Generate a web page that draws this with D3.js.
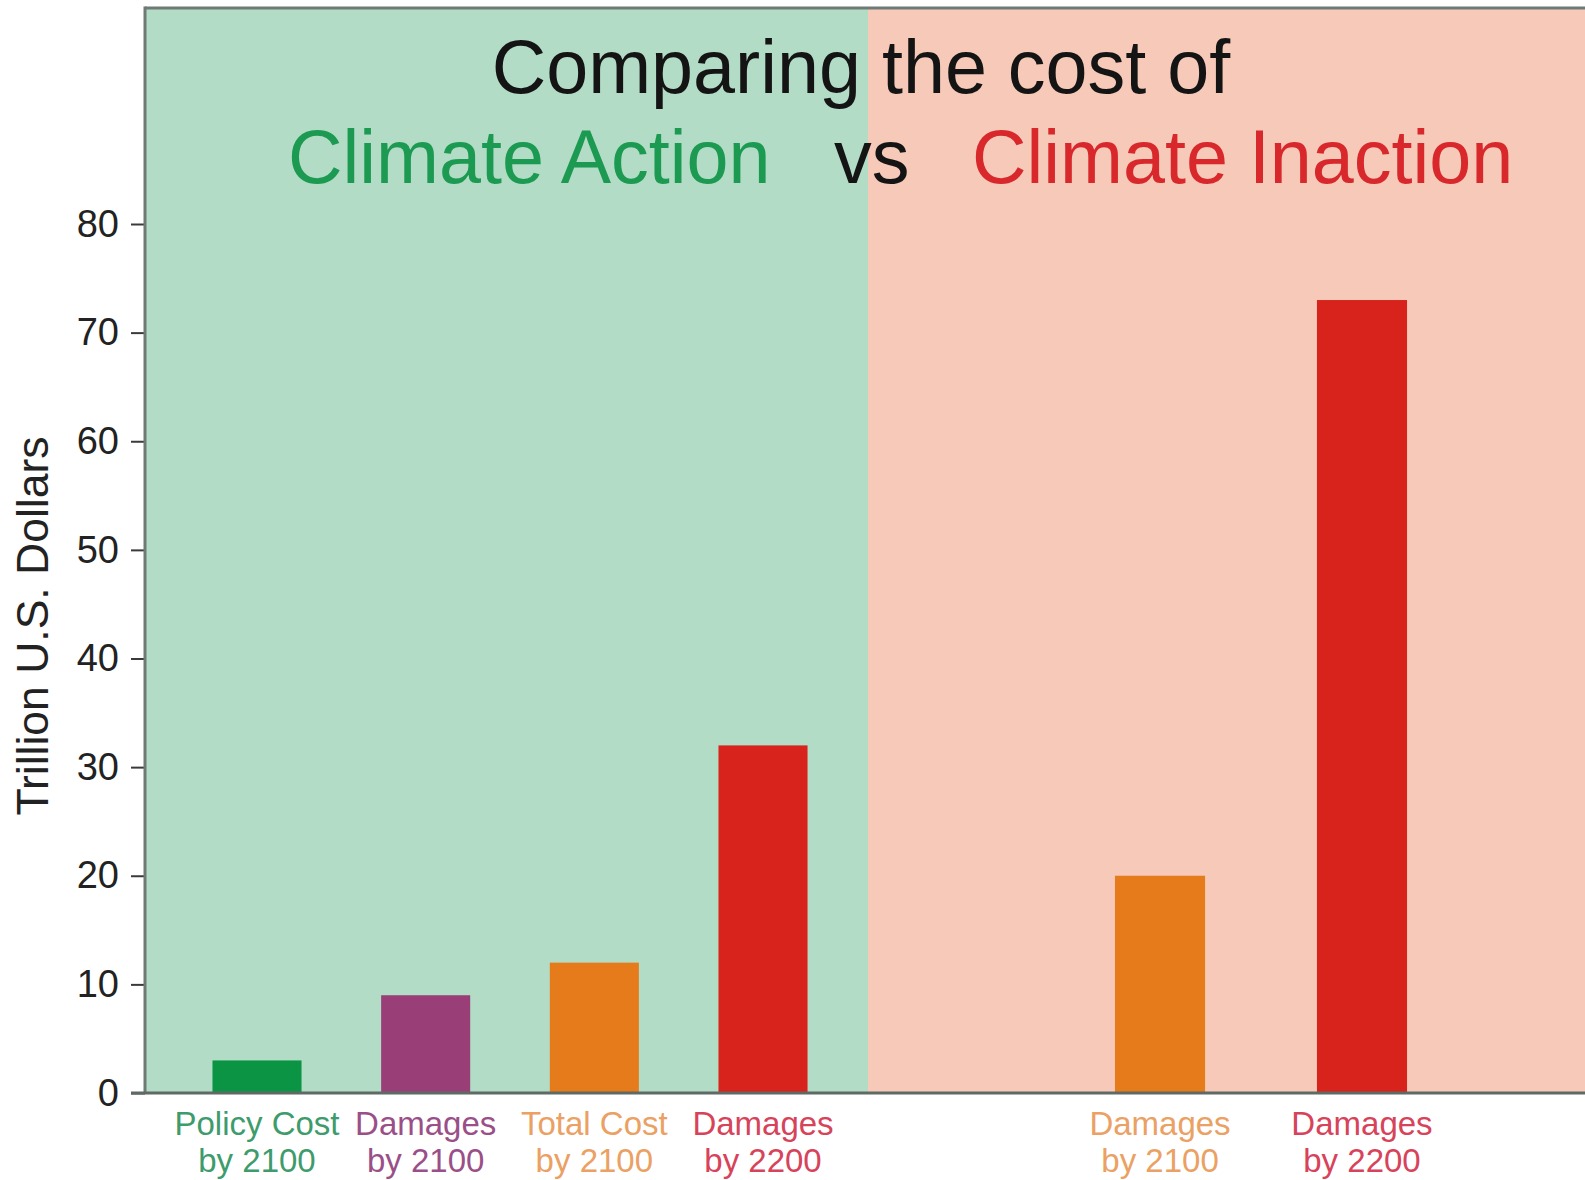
<!DOCTYPE html>
<html>
<head>
<meta charset="utf-8">
<script src="https://cdn.jsdelivr.net/npm/d3@7/dist/d3.min.js"></script>
<style>
  html, body { margin: 0; padding: 0; background: #ffffff; }
  svg { display: block; font-family: "Liberation Sans", Arial, Helvetica, sans-serif; }
</style>
</head>
<body>
<svg id="chart" width="1585" height="1180"></svg>
<script>
// ---- data ----
const actionCategories = ["Policy Cost|by 2100", "Damages|by 2100", "Total Cost|by 2100", "Damages|by 2200"];
const actionValues = [3, 9, 12, 32];
const inactionCategories = ["Damages|by 2100", "Damages|by 2200"];
const inactionValues = [20, 73];
const yTicks = [0, 10, 20, 30, 40, 50, 60, 70, 80];
const titleLine1 = "Comparing the cost of";
const titleLine2 = ["Climate Action", "vs", "Climate Inaction"];
const yAxisLabel = "Trillion U.S. Dollars";

// ---- styles ----
const actionBarColors = ["#0b9444", "#9a3e78", "#e57b1b", "#d8231c"];
const actionLabelColors = ["#3e9b6c", "#9b4f88", "#eaa163", "#d7435a"];
const inactionBarColors = ["#e57b1b", "#d8231c"];
const inactionLabelColors = ["#eaa163", "#d7435a"];

const svg = d3.select("#chart");
const W = 1585;
const plotLeft = 145, plotTop = 8, plotBottom = 1093, split = 868;

const y = d3.scaleLinear().domain([0, 80]).range([plotBottom, 224]);

const xA = d3.scaleBand().domain(actionCategories.map((d, i) => i))
  .range([145, 875]).paddingInner(0.472).paddingOuter(0.4);
const xI = d3.scaleBand().domain(inactionCategories.map((d, i) => i))
  .range([963.5, 1558.5]).paddingInner(0.554).paddingOuter(0.75);

// backgrounds
svg.append("rect").attr("x", plotLeft).attr("y", plotTop)
  .attr("width", split - plotLeft).attr("height", plotBottom - plotTop).attr("fill", "#b3dcc6");
svg.append("rect").attr("x", split).attr("y", plotTop)
  .attr("width", W - split).attr("height", plotBottom - plotTop).attr("fill", "#f6c9b9");

// top border
svg.append("line").attr("x1", plotLeft).attr("x2", W).attr("y1", plotTop).attr("y2", plotTop)
  .attr("stroke", "#6f7a74").attr("stroke-width", 3);

// title
svg.append("text").attr("x", 861).attr("y", 93).attr("text-anchor", "middle")
  .attr("font-size", 75.5).attr("fill", "#141414").text(titleLine1);
const t2 = [
  {text: titleLine2[0], x: 288, fill: "#1c9a52"},
  {text: titleLine2[1], x: 834, fill: "#141414"},
  {text: titleLine2[2], x: 972, fill: "#d8282c"}
];
svg.selectAll("text.t2").data(t2).join("text").attr("class", "t2")
  .attr("x", d => d.x).attr("y", 183).attr("font-size", 75.5)
  .attr("fill", d => d.fill).text(d => d.text);

// bars
svg.selectAll("rect.barA").data(actionValues).join("rect").attr("class", "barA")
  .attr("x", (d, i) => xA(i)).attr("width", xA.bandwidth())
  .attr("y", d => y(d)).attr("height", d => plotBottom - y(d))
  .attr("fill", (d, i) => actionBarColors[i]);
svg.selectAll("rect.barI").data(inactionValues).join("rect").attr("class", "barI")
  .attr("x", (d, i) => xI(i)).attr("width", xI.bandwidth())
  .attr("y", d => y(d)).attr("height", d => plotBottom - y(d))
  .attr("fill", (d, i) => inactionBarColors[i]);

// y axis
const yAxis = d3.axisLeft(y).tickValues(yTicks).tickSize(14).tickPadding(12);
const gy = svg.append("g").attr("transform", `translate(${plotLeft},0)`).call(yAxis);
gy.select(".domain").remove();
gy.selectAll(".tick line").attr("stroke", "#3a3a3a").attr("stroke-width", 2);
gy.selectAll(".tick text").attr("font-size", 38).attr("fill", "#222")
  .attr("font-family", "'Liberation Sans', Arial, sans-serif");

// axis lines
svg.append("line").attr("x1", plotLeft).attr("x2", plotLeft).attr("y1", plotTop - 1.5).attr("y2", plotBottom)
  .attr("stroke", "#6f7a74").attr("stroke-width", 3);
svg.append("line").attr("x1", 131).attr("x2", W).attr("y1", plotBottom).attr("y2", plotBottom)
  .attr("stroke", "#5f6a64").attr("stroke-width", 3);

// y label
svg.append("text").attr("transform", "translate(48,626) rotate(-90)")
  .attr("text-anchor", "middle").attr("font-size", 44.5).attr("fill", "#222").text(yAxisLabel);

// category labels
function drawLabels(cats, scale, colors) {
  const g = svg.append("g");
  cats.forEach((c, i) => {
    const lines = c.split("|");
    const cx = scale(i) + scale.bandwidth() / 2;
    const t = g.append("text").attr("text-anchor", "middle").attr("font-size", 33)
      .attr("fill", colors[i]);
    lines.forEach((l, j) => {
      t.append("tspan").attr("x", cx).attr("y", 1135 + j * 37).text(l);
    });
  });
}
drawLabels(actionCategories, xA, actionLabelColors);
drawLabels(inactionCategories, xI, inactionLabelColors);
</script>
</body>
</html>
